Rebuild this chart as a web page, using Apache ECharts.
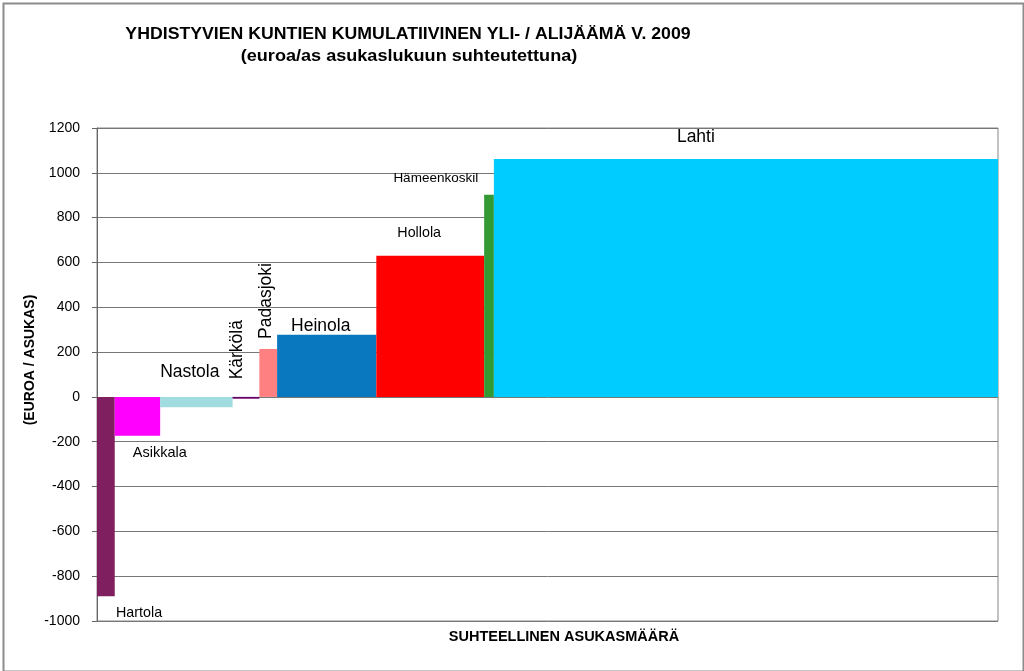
<!DOCTYPE html>
<html>
<head>
<meta charset="utf-8">
<script src="https://cdn.jsdelivr.net/npm/echarts@6/dist/echarts.min.js"></script>
<style>
  html, body { margin: 0; padding: 0; background: #fff; }
  #chart { width: 1024px; height: 671px; }
</style>
</head>
<body>
<div id="chart"></div>
<script>
// ---- Data ----
const municipalities = ['Hartola', 'Asikkala', 'Nastola', 'Kärkölä', 'Padasjoki', 'Heinola', 'Hollola', 'Hämeenkoski', 'Lahti'];
const labelTexts = ['Hartola', 'Asikkala', 'Nastola', 'Kärkölä', 'Padasjoki', 'Heinola', 'Hollola', 'Hämeenkoskil', 'Lahti'];
// cumulative surplus / deficit, euro per inhabitant
const surplus = [-890, -173, -46, -8, 214, 277, 630, 902, 1062];
// relative population (bar widths)
const population = [3540, 9060, 14460, 5340, 3540, 19800, 21520, 1940, 100600];
const yMin = -1000, yMax = 1200, yStep = 200;

// ---- Styles ----
const colors = ['#7F1F5F', '#FF00FF', '#A0DCE0', '#660066', '#FF8080', '#0A78BE', '#FF0000', '#339933', '#00CCFF'];
// label layout: offset from bar's left edge (dx) and from bar's value end (dy), in px
const labelLayout = [
  { dx: 19, dy: 17, size: 14.3, align: 'left', rot: 0 },
  { dx: 18, dy: 17, size: 14.5, align: 'left', rot: 0 },
  { dx: 0, dy: -35, size: 17.5, align: 'left', rot: 0 },
  { dx: 5, dy: -49, size: 17.5, align: 'center', rot: Math.PI / 2 },
  { dx: 7, dy: -48, size: 17.5, align: 'center', rot: Math.PI / 2 },
  { dx: 14, dy: -9, size: 17.5, align: 'left', rot: 0 },
  { dx: 21, dy: -23, size: 14.3, align: 'left', rot: 0 },
  { dx: -6, dy: -16, size: 13.5, align: 'right', rot: 0 },
  { dx: 202, dy: -22, size: 17.5, align: 'center', rot: 0 }
];

// ---- Build data for custom series ----
const barData = [];
let acc = 0;
for (let i = 0; i < municipalities.length; i++) {
  barData.push([acc, acc + population[i], surplus[i], i]);
  acc += population[i];
}
const totalPop = acc;

const FONT = '"Liberation Sans", Arial, sans-serif';

function renderItem(params, api) {
  const x0 = api.value(0), x1 = api.value(1), v = api.value(2), i = api.value(3);
  const p0 = api.coord([x0, 0]);
  const p1 = api.coord([x1, v]);
  const lay = labelLayout[i];
  return {
    type: 'group',
    children: [
      {
        type: 'rect',
        shape: { x: p0[0], y: Math.min(p0[1], p1[1]), width: p1[0] - p0[0], height: Math.abs(p1[1] - p0[1]) },
        style: { fill: colors[i] }
      },
      {
        type: 'text',
        x: p0[0] + lay.dx,
        y: p1[1] + lay.dy,
        rotation: lay.rot,
        style: {
          text: labelTexts[i],
          fontSize: lay.size,
          fontFamily: FONT,
          fill: '#000',
          align: lay.align,
          verticalAlign: 'middle'
        }
      }
    ]
  };
}

function boldText(text, x, y, size, sx, rot) {
  return {
    type: 'text', x: x, y: y, scaleX: sx, rotation: rot || 0, silent: true,
    style: {
      text: text, fontFamily: FONT, fontWeight: 'bold', fontSize: size,
      fill: '#000', align: 'center', verticalAlign: 'middle'
    }
  };
}

const chart = echarts.init(document.getElementById('chart'), null, { renderer: 'canvas' });
chart.setOption({
  backgroundColor: '#fff',
  animation: false,
  graphic: [
    {
      type: 'rect', left: 1, top: 1, silent: true,
      shape: { width: 1020, height: 668 },
      style: { fill: 'none', stroke: '#8c8c8c', lineWidth: 2 }
    },
    boldText('YHDISTYVIEN KUNTIEN KUMULATIIVINEN YLI- / ALIJÄÄMÄ V. 2009', 408, 34.5, 15.8, 1.12),
    boldText('(euroa/as asukaslukuun suhteutettuna)', 409, 56.5, 16, 1.13),
    boldText('SUHTEELLINEN ASUKASMÄÄRÄ', 564, 637, 14.5, 1),
    boldText('(EUROA / ASUKAS)', 30, 360, 14, 1, Math.PI / 2)
  ],
  grid: {
    left: 97, right: 26, top: 128, bottom: 50,
    show: true, borderColor: '#868686', borderWidth: 1, backgroundColor: '#fff'
  },
  xAxis: {
    type: 'value', min: 0, max: totalPop,
    axisLine: { show: false }, axisTick: { show: false }, axisLabel: { show: false }, splitLine: { show: false }
  },
  yAxis: {
    type: 'value', min: yMin, max: yMax, interval: yStep,
    axisLine: { show: true, lineStyle: { color: '#666', width: 1 } },
    axisTick: { show: true, inside: false, length: 5, lineStyle: { color: '#666' } },
    axisLabel: { margin: 17, fontFamily: FONT, fontSize: 14, color: '#000', formatter: function (v) { return String(v); } },
    splitLine: { show: true, lineStyle: { color: '#777', width: 1 } }
  },
  series: [{
    type: 'custom',
    renderItem: renderItem,
    encode: { x: [0, 1], y: 2 },
    clip: false,
    data: barData
  }]
});
</script>
</body>
</html>
